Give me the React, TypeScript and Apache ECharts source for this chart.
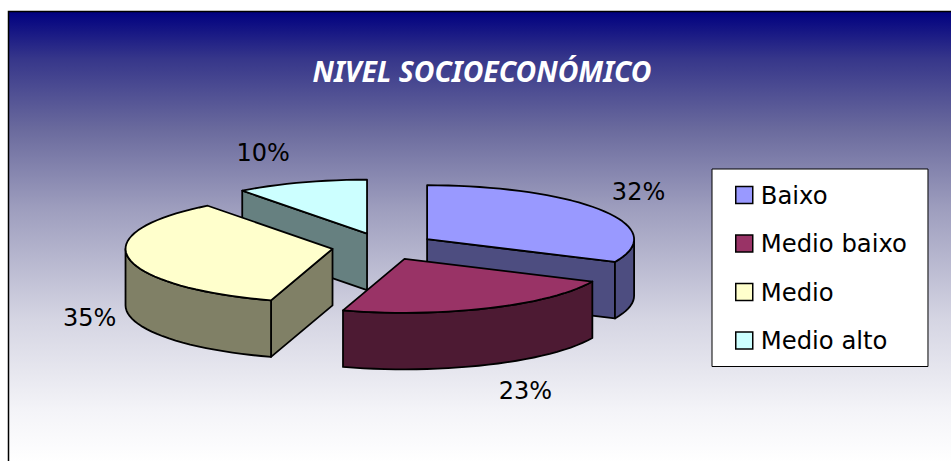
import React, { useEffect, useRef } from "react";
import * as echarts from "echarts";

const categories = ["Baixo", "Medio baixo", "Medio", "Medio alto"];
const shares = [31.9, 22.9, 34.9, 10.3];
const labels = ["32%", "23%", "35%", "10%"];
const topColors = ["#9999FF", "#993366", "#FFFFCC", "#CCFFFF"];
const wallColors = ["#4D4D80", "#4D1A33", "#808066", "#668080"];
const paintOrder = [2, 4, 3, 1];
const labelNudges = [[37, -18], [37, 26], [-39, 60], [-38, -30]];

const CX = 383.5, CY = 246.5, RX = 207, RY = 54, DEPTH = 56.5, EXPLODE = 0.25;
const rad = (d: number) => (d * Math.PI) / 180;
const total = shares.reduce((a, b) => a + b, 0);

const renderSlice = (index: number) => (_p: any, api: any) => {
  const before = shares.slice(0, index).reduce((a, b) => a + b, 0);
  const start = (before / total) * 360;
  const end = start + (api.value(0) / total) * 360;
  const mid = (start + end) / 2;
  const cx = CX + EXPLODE * RX * Math.sin(rad(mid));
  const cy = CY - EXPLODE * RY * Math.cos(rad(mid));
  const pt = (t: number, dz = 0): number[] => [cx + RX * Math.sin(rad(t)), cy - RY * Math.cos(rad(t)) + dz];
  const arc = (a: number, b: number, dz = 0) => {
    const n = Math.max(1, Math.ceil((b - a) / 3));
    return Array.from({ length: n + 1 }, (_, i) => pt(a + ((b - a) * i) / n, dz));
  };
  const stroke = { stroke: "#000", lineWidth: 1.8, lineJoin: "round" };
  const wall = { ...stroke, fill: wallColors[index] };
  const children: any[] = [];
  const radial = (t: number) => children.push({
    type: "polygon",
    shape: { points: [[cx, cy], pt(t), pt(t, DEPTH), [cx, cy + DEPTH]] },
    style: wall,
  });
  if (Math.sin(rad(start)) < 0) radial(start);
  if (Math.sin(rad(end)) > 0) radial(end);
  const a = Math.max(start, 90), b = Math.min(end, 270);
  if (b > a) {
    children.push({
      type: "polygon",
      shape: { points: [...arc(a, b), ...arc(a, b, DEPTH).reverse()] },
      style: wall,
    });
  }
  children.push({
    type: "polygon",
    shape: { points: [[cx, cy], ...arc(start, end)] },
    style: { ...stroke, fill: topColors[index] },
  });
  const anchor = pt(mid, Math.cos(rad(mid)) < 0 && Math.abs(Math.sin(rad(mid))) < 0.9 ? DEPTH : 0);
  children.push({
    type: "text",
    style: {
      x: anchor[0] + labelNudges[index][0],
      y: anchor[1] + labelNudges[index][1],
      text: labels[index],
      fill: "#000",
      font: '24px "DejaVu Sans"',
      align: "center",
      verticalAlign: "middle",
    },
  });
  return { type: "group", children };
};

export default function App() {
  const ref = useRef<HTMLDivElement>(null);
  useEffect(() => {
    document.body.style.margin = "0";
    const chart = echarts.init(ref.current!, undefined, { renderer: "svg" });
    chart.setOption({
      animation: false,
      backgroundColor: "#fff",
      graphic: [{
        type: "rect",
        z: -10,
        shape: { x: 8.5, y: 11.5, width: 960, height: 470 },
        style: {
          stroke: "#000",
          lineWidth: 1.5,
          fill: new echarts.graphic.LinearGradient(0, 0, 0, 1, [
            { offset: 0, color: "#000080" },
            { offset: 0.1, color: "#36368A" },
            { offset: 0.25, color: "#6A6A9D" },
            { offset: 0.42, color: "#9E9EBE" },
            { offset: 0.65, color: "#D4D4E2" },
            { offset: 0.85, color: "#F4F4F8" },
            { offset: 0.96, color: "#FFFFFF" },
            { offset: 1, color: "#FFFFFF" },
          ]),
        },
      }],
      title: {
        text: "NIVEL SOCIOECONÓMICO",
        left: 477,
        top: 52,
        textAlign: "center",
        textStyle: { color: "#fff", fontFamily: "Noto Sans", fontWeight: "bold", fontStyle: "italic", fontSize: 28.3 },
      },
      legend: {
        left: 712,
        top: 169,
        orient: "vertical",
        data: categories.map((name, i) => ({ name, itemStyle: { color: topColors[i], borderColor: "#000", borderWidth: 1.5 } })),
        icon: "rect",
        itemWidth: 17,
        itemHeight: 17,
        itemGap: 24.5,
        padding: [14, 21, 14, 23],
        backgroundColor: "#fff",
        borderColor: "#000",
        borderWidth: 1,
        selectedMode: false,
        textStyle: { color: "#000", fontFamily: "DejaVu Sans", fontSize: 24.3, padding: [0, 0, 0, 3] },
      },
      series: categories.map((name, i) => ({
        type: "custom",
        name,
        coordinateSystem: "none",
        z: paintOrder[i],
        itemStyle: { color: topColors[i] },
        data: [[shares[i]]],
        renderItem: renderSlice(i),
      })),
    });
    return () => chart.dispose();
  }, []);
  return <div ref={ref} style={{ width: 951, height: 461 }} />;
}
